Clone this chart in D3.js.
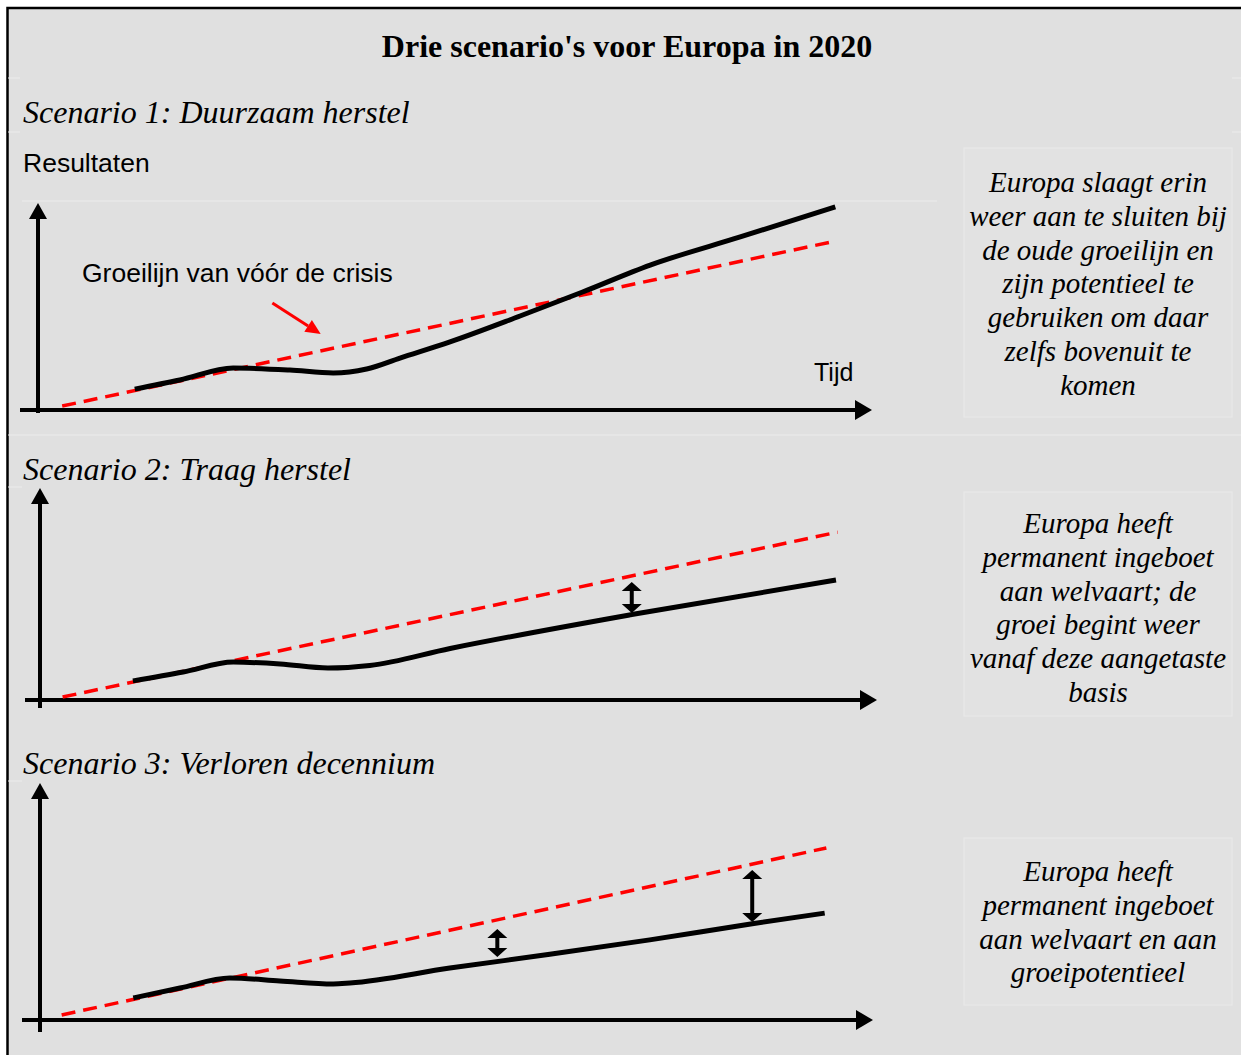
<!DOCTYPE html>
<html>
<head>
<meta charset="utf-8">
<script src="https://cdn.jsdelivr.net/npm/d3@7"></script>
<style>
  body { margin: 0; background: #fff; }
  svg { display: block; }
</style>
</head>
<body>
<div id="chart"></div>
<script>
// teksten
const title = "Drie scenario's voor Europa in 2020"
const scenarioTitles = ["Scenario 1: Duurzaam herstel", "Scenario 2: Traag herstel", "Scenario 3: Verloren decennium"]
const yLabel = "Resultaten"
const xLabel = "Tijd"
const trendLabel = "Groeilijn van vóór de crisis"
const scenarioText1 = ["Europa slaagt erin", "weer aan te sluiten bij", "de oude groeilijn en", "zijn potentieel te", "gebruiken om daar", "zelfs bovenuit te", "komen"]
const scenarioText2 = ["Europa heeft", "permanent ingeboet", "aan welvaart; de", "groei begint weer", "vanaf deze aangetaste", "basis"]
const scenarioText3 = ["Europa heeft", "permanent ingeboet", "aan welvaart en aan", "groeipotentieel"]

// waarden: [tijd, resultaat] op schaal 0-100
const trend1 = [[2.9, 1.9], [95.6, 81.6]]
const path1 = [[11.6, 10.1], [17.0, 14.5], [23.4, 20.3], [30.2, 19.3], [35.4, 17.9], [39.4, 19.8], [43.4, 25.1], [49.4, 32.9], [57.8, 45.4], [65.3, 57.0], [73.4, 70.0], [84.2, 83.6], [95.6, 98.1]]
const pointer1 = [[28.1, 51.7], [33.9, 36.7]]

const trend2 = [[2.7, 1.4], [95.3, 79.2]]
const path2 = [[11.1, 9.0], [17.1, 13.2], [23.1, 17.9], [28.7, 17.0], [34.4, 15.1], [39.4, 16.3], [49.0, 24.3], [70.7, 40.3], [95.1, 56.6]]
const gaps2 = [[70.7, 55.7, 41.0]]

const trend3 = [[2.6, 2.1], [94.4, 72.6]]
const path3 = [[11.2, 9.3], [16.8, 13.5], [22.8, 17.7], [28.8, 16.5], [35.2, 15.2], [37.2, 15.6], [49.2, 21.9], [61.2, 27.7], [73.2, 33.8], [85.5, 40.6], [94.2, 45.1]]
const gaps3 = [[54.9, 38.4, 26.6], [85.5, 63.3, 41.4]]

const width = 1241
const height = 1055
const serif = "'Liberation Serif', 'Times New Roman', serif"
const sans = "'Liberation Sans', Arial, sans-serif"

const svg = d3.select("#chart").append("svg")
    .attr("width", width)
    .attr("height", height)

// achtergrond met rand
svg.append("rect")
    .attr("x", 7.5).attr("y", 8)
    .attr("width", 1245).attr("height", 1060)
    .attr("fill", "#e0e0e0")
    .attr("stroke", "#000")
    .attr("stroke-width", 2.5)

// vage tabel-lijnen
const faint = [[8, 78, 20, 78], [1232, 78, 1241, 78], [8, 132, 20, 132], [1232, 132, 1241, 132],
    [22, 201, 937, 201], [8, 435, 1241, 435], [8, 487, 22, 487], [8, 781, 22, 781]]
svg.selectAll("line.faint")
    .data(faint)
    .enter().append("line")
    .attr("class", "faint")
    .attr("x1", d => d[0]).attr("y1", d => d[1])
    .attr("x2", d => d[2]).attr("y2", d => d[3])
    .attr("stroke", "#ececec")
    .attr("stroke-width", 1)

// tekstvakken rechts
const boxes = [
    { y0: 148, y1: 417, lines: scenarioText1, base: 192 },
    { y0: 492, y1: 716, lines: scenarioText2, base: 533 },
    { y0: 838, y1: 1005, lines: scenarioText3, base: 881 }
]
boxes.forEach(b => {
    svg.append("rect")
        .attr("x", 964).attr("y", b.y0)
        .attr("width", 268).attr("height", b.y1 - b.y0)
        .attr("fill", "#e2e2e2")
        .attr("stroke", "#e9e9e9")
        .attr("stroke-width", 1)
    svg.append("g").selectAll("text")
        .data(b.lines)
        .enter().append("text")
        .attr("x", 1098)
        .attr("y", (d, i) => b.base + i * 33.8)
        .attr("text-anchor", "middle")
        .style("font-family", serif)
        .style("font-style", "italic")
        .style("font-size", "29px")
        .text(d => d)
})

// titel
svg.append("text")
    .attr("x", 627).attr("y", 57)
    .attr("text-anchor", "middle")
    .style("font-family", serif)
    .style("font-weight", "bold")
    .style("font-size", "32px")
    .text(title)

// scenario titels
const titleY = [123, 480, 774]
svg.selectAll("text.scen")
    .data(scenarioTitles)
    .enter().append("text")
    .attr("class", "scen")
    .attr("x", 23)
    .attr("y", (d, i) => titleY[i])
    .style("font-family", serif)
    .style("font-style", "italic")
    .style("font-size", "32px")
    .text(d => d)

// panelen
const panels = [
    { x0: 38, x1: 872, y0: 410, y1: 203, axisBottom: 413, axisLeft: 20, trend: trend1, path: path1, gaps: [] },
    { x0: 40, x1: 877, y0: 700, y1: 488, axisBottom: 708, axisLeft: 25, trend: trend2, path: path2, gaps: gaps2 },
    { x0: 40, x1: 873, y0: 1020, y1: 783, axisBottom: 1032, axisLeft: 22, trend: trend3, path: path3, gaps: gaps3 }
]

panels.forEach((p, idx) => {
    const x = d3.scaleLinear().domain([0, 100]).range([p.x0, p.x1])
    const y = d3.scaleLinear().domain([0, 100]).range([p.y0, p.y1])
    const g = svg.append("g")

    // assen
    g.append("line")
        .attr("x1", x(0)).attr("y1", p.axisBottom)
        .attr("x2", x(0)).attr("y2", y(100) + 12)
        .attr("stroke", "#000").attr("stroke-width", 4)
    g.append("path")
        .attr("d", `M${x(0)},${y(100)} L${x(0) - 9},${y(100) + 16} L${x(0) + 9},${y(100) + 16} Z`)
        .attr("fill", "#000")
    g.append("line")
        .attr("x1", p.axisLeft).attr("y1", y(0))
        .attr("x2", x(100) - 12).attr("y2", y(0))
        .attr("stroke", "#000").attr("stroke-width", 4)
    g.append("path")
        .attr("d", `M${x(100)},${y(0)} L${x(100) - 17},${y(0) - 10} L${x(100) - 17},${y(0) + 10} Z`)
        .attr("fill", "#000")

    // groeilijn van voor de crisis
    const line = d3.line().x(d => x(d[0])).y(d => y(d[1]))
    g.append("path")
        .attr("d", line(p.trend))
        .attr("fill", "none")
        .attr("stroke", "#ff0000")
        .attr("stroke-width", 3.5)
        .attr("stroke-dasharray", "14,8")

    // werkelijke resultaten
    g.append("path")
        .attr("d", line.curve(d3.curveMonotoneX)(p.path))
        .attr("fill", "none")
        .attr("stroke", "#000")
        .attr("stroke-width", 5)

    // dubbele pijlen
    p.gaps.forEach(d => {
        const gx = x(d[0]), top = y(d[1]), bot = y(d[2])
        g.append("line")
            .attr("x1", gx).attr("y1", top + 6)
            .attr("x2", gx).attr("y2", bot - 6)
            .attr("stroke", "#000").attr("stroke-width", 4)
        g.append("path")
            .attr("d", `M${gx},${top} L${gx - 10},${top + 9} L${gx + 10},${top + 9} Z M${gx},${bot} L${gx - 10},${bot - 9} L${gx + 10},${bot - 9} Z`)
            .attr("fill", "#000")
    })

    if (idx === 0) {
        // rode pijl naar de groeilijn
        const a = pointer1[0], b = pointer1[1]
        const ax = x(a[0]), ay = y(a[1]), bx = x(b[0]), by = y(b[1])
        const ang = Math.atan2(by - ay, bx - ax)
        const hl = 15, hw = 7
        const baseX = bx - hl * Math.cos(ang), baseY = by - hl * Math.sin(ang)
        g.append("line")
            .attr("x1", ax).attr("y1", ay)
            .attr("x2", baseX).attr("y2", baseY)
            .attr("stroke", "#ff0000").attr("stroke-width", 3)
        g.append("path")
            .attr("d", `M${bx},${by} L${baseX - hw * Math.sin(ang)},${baseY + hw * Math.cos(ang)} L${baseX + hw * Math.sin(ang)},${baseY - hw * Math.cos(ang)} Z`)
            .attr("fill", "#ff0000")

        g.append("text")
            .attr("x", 23).attr("y", 172)
            .style("font-family", sans)
            .style("font-size", "26.5px")
            .text(yLabel)
        g.append("text")
            .attr("x", 82).attr("y", 282)
            .style("font-family", sans)
            .style("font-size", "26.5px")
            .text(trendLabel)
        g.append("text")
            .attr("x", 814).attr("y", 381)
            .style("font-family", sans)
            .style("font-size", "25px")
            .text(xLabel)
    }
})
</script>
</body>
</html>
